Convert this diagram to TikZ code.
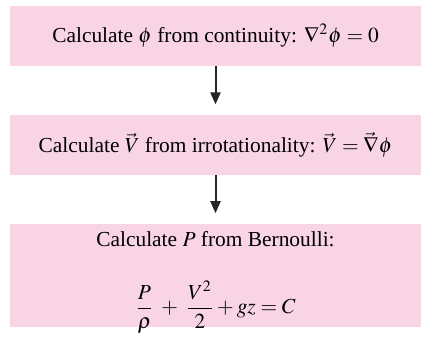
\documentclass[tikz,border=0pt]{standalone}
\usepackage{mathptmx}
\usepackage{fontspec}
\setmainfont{Liberation Serif}
\usetikzlibrary{arrows.meta,positioning}
\definecolor{boxpink}{RGB}{248,212,228}

\begin{document}
\begin{tikzpicture}[
    node distance=24pt,
    stepbox/.style={rectangle, fill=boxpink, align=center, minimum width=205.5pt, minimum height=30pt, inner sep=0pt, font=\fontsize{10.7}{13}\selectfont},
    arrow/.style={-{Triangle[width=5pt,length=6pt]}, line width=1pt, draw=black!85, shorten >=5pt}
]
    \useasboundingbox (0,0) rectangle (210.5pt,-168pt);
    \node [stepbox] (phi) at (107.75pt,-18pt) {Calculate $\phi$ from continuity: $\nabla^2\phi = 0$};
    \node [stepbox, below=of phi] (vel) {Calculate $\vec{V}$ from irrotationality: $\vec{V} = \vec{\nabla}\phi$};
    \node [stepbox, below=of vel, minimum height=51.5pt, text height=45pt, text depth=6.5pt] (pres) {Calculate $P$ from Bernoulli:\\[16pt]
        $\displaystyle \frac{P}{\rho} \;+\; \frac{V^2}{2} + gz = C$};

    \draw [arrow] (phi) -- (vel);
    \draw [arrow] (vel) -- (pres);
\end{tikzpicture}
\end{document}
